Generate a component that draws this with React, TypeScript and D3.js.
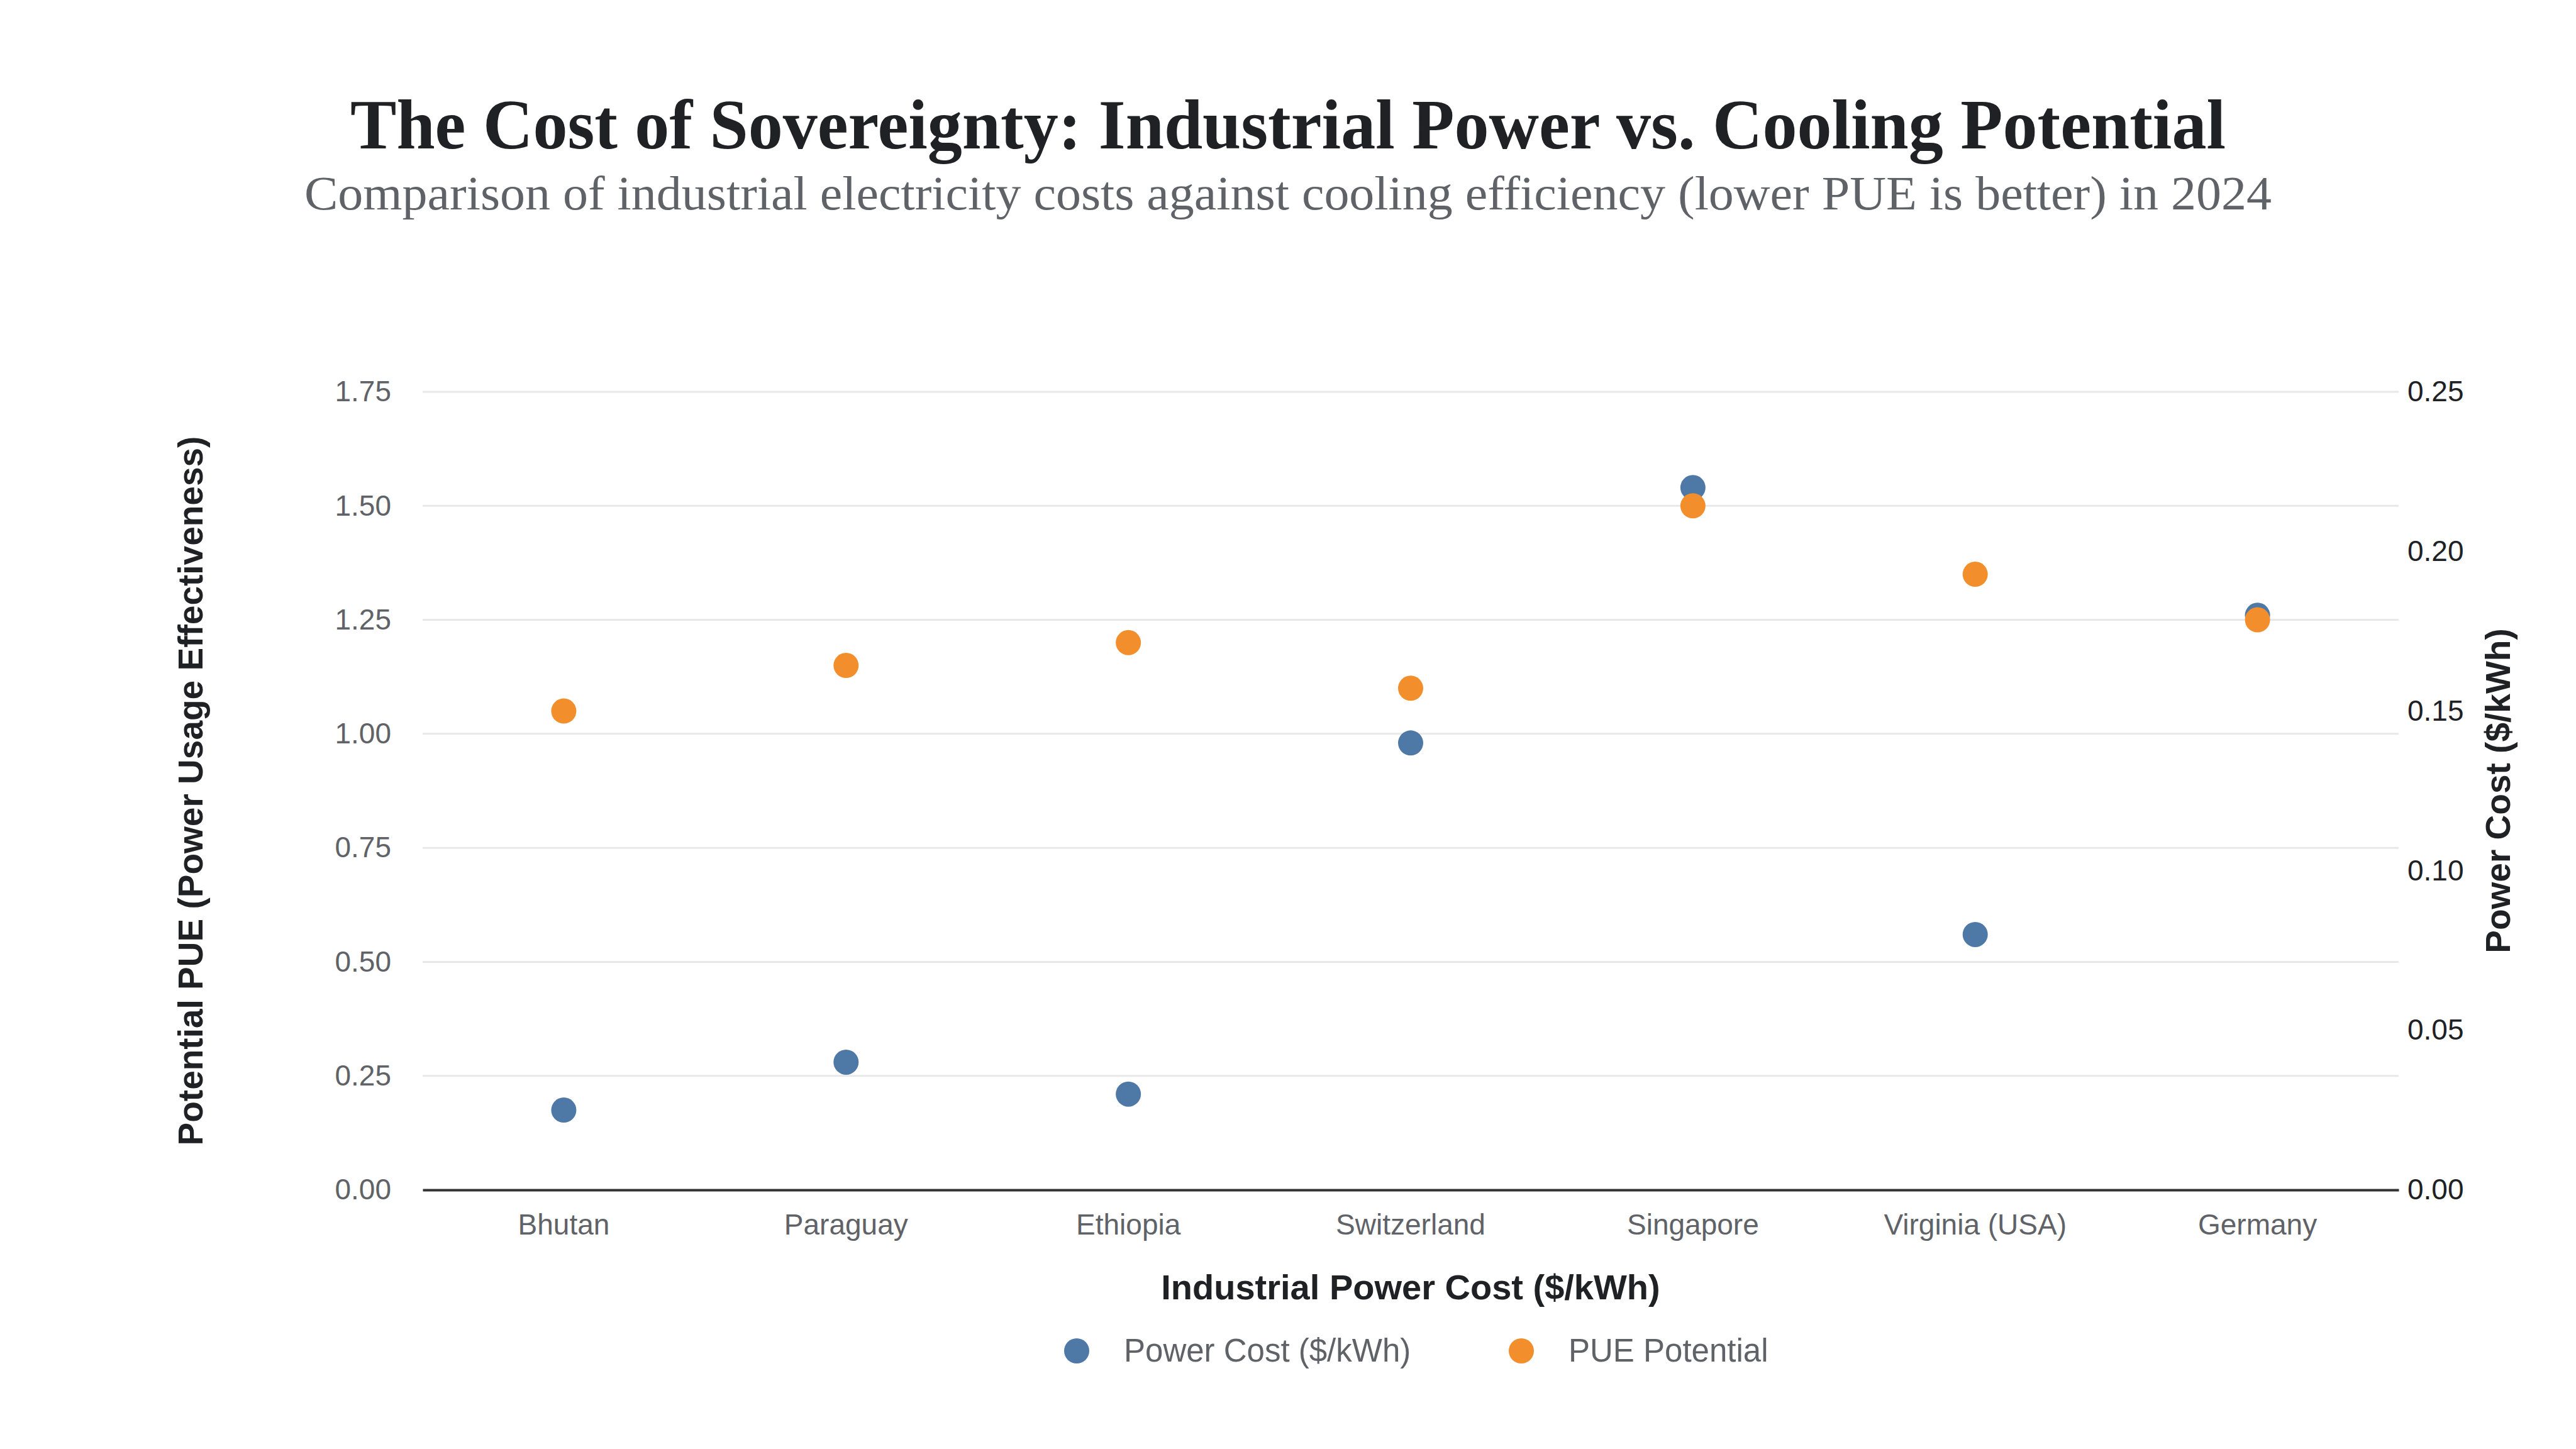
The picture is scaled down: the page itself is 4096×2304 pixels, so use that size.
import * as d3 from "d3";
import React, { useRef, useEffect } from "react";

const width = 4096;
const height = 2304;
const margin = { top: 623, right: 282, bottom: 412, left: 672 };

const countries = [
  "Bhutan",
  "Paraguay",
  "Ethiopia",
  "Switzerland",
  "Singapore",
  "Virginia (USA)",
  "Germany",
];
const powerCost = [0.025, 0.04, 0.03, 0.14, 0.22, 0.08, 0.18];
const puePotential = [1.05, 1.15, 1.2, 1.1, 1.5, 1.35, 1.25];

const leftTicks = [0, 0.25, 0.5, 0.75, 1.0, 1.25, 1.5, 1.75];
const rightTicks = [0, 0.05, 0.1, 0.15, 0.2, 0.25];

const seriesNames = ["Power Cost ($/kWh)", "PUE Potential"];
const colors = ["#4e79a7", "#f28e2b"];

const sans = "'Liberation Sans', Arial, Helvetica, sans-serif";
const serif = "'Liberation Serif', 'DejaVu Serif', serif";

export default function App() {
  const ref = useRef(null);

  useEffect(() => {
    const svg = d3.select(ref.current);
    svg.selectAll("*").remove();

    const x = d3
      .scaleBand()
      .domain(countries)
      .range([margin.left, width - margin.right]);

    const yLeft = d3
      .scaleLinear()
      .domain([0, 1.75])
      .range([height - margin.bottom, margin.top]);

    const yRight = d3
      .scaleLinear()
      .domain([0, 0.25])
      .range([height - margin.bottom, margin.top]);

    const cx = (d: string) => (x(d) as number) + x.bandwidth() / 2;

    // Title + subtitle
    svg
      .append("text")
      .attr("x", width / 2)
      .attr("y", 236)
      .attr("text-anchor", "middle")
      .attr("font-family", serif)
      .attr("font-weight", "bold")
      .attr("font-size", 112)
      .attr("fill", "#202124")
      .attr("textLength", 2982)
      .attr("lengthAdjust", "spacingAndGlyphs")
      .text("The Cost of Sovereignty: Industrial Power vs. Cooling Potential");

    svg
      .append("text")
      .attr("x", width / 2)
      .attr("y", 333)
      .attr("text-anchor", "middle")
      .attr("font-family", serif)
      .attr("font-size", 77)
      .attr("fill", "#5f6368")
      .attr("textLength", 3128)
      .attr("lengthAdjust", "spacingAndGlyphs")
      .text(
        "Comparison of industrial electricity costs against cooling efficiency (lower PUE is better) in 2024"
      );

    // Gridlines
    svg
      .append("g")
      .selectAll("line")
      .data(leftTicks.filter((t) => t > 0))
      .join("line")
      .attr("x1", margin.left)
      .attr("x2", width - margin.right)
      .attr("y1", (d) => yLeft(d))
      .attr("y2", (d) => yLeft(d))
      .attr("stroke", "#e8e8ea")
      .attr("stroke-width", 3);

    // Left axis
    svg
      .append("g")
      .attr("transform", `translate(${margin.left},0)`)
      .call(
        d3
          .axisLeft(yLeft)
          .tickValues(leftTicks)
          .tickSize(0)
          .tickPadding(50)
          .tickFormat(d3.format(".2f"))
      )
      .call((g: any) => g.select(".domain").remove())
      .call((g: any) =>
        g
          .selectAll("text")
          .attr("font-family", sans)
          .attr("font-size", 46)
          .attr("fill", "#5f6368")
      );

    // Right axis
    svg
      .append("g")
      .attr("transform", `translate(${width - margin.right},0)`)
      .call(
        d3
          .axisRight(yRight)
          .tickValues(rightTicks)
          .tickSize(0)
          .tickPadding(14)
          .tickFormat(d3.format(".2f"))
      )
      .call((g: any) => g.select(".domain").remove())
      .call((g: any) =>
        g
          .selectAll("text")
          .attr("font-family", sans)
          .attr("font-size", 46)
          .attr("fill", "#202124")
      );

    // Bottom axis
    svg
      .append("g")
      .attr("transform", `translate(0,${height - margin.bottom})`)
      .call(d3.axisBottom(x).tickSize(0).tickPadding(38))
      .call((g: any) =>
        g.select(".domain").attr("stroke", "#333333").attr("stroke-width", 4)
      )
      .call((g: any) =>
        g
          .selectAll("text")
          .attr("font-family", sans)
          .attr("font-size", 46)
          .attr("fill", "#5f6368")
      );

    // Axis titles
    svg
      .append("text")
      .attr("x", (margin.left + width - margin.right) / 2)
      .attr("y", 2066)
      .attr("text-anchor", "middle")
      .attr("font-family", sans)
      .attr("font-weight", "bold")
      .attr("font-size", 56)
      .attr("fill", "#202124")
      .text("Industrial Power Cost ($/kWh)");

    const midY = (margin.top + height - margin.bottom) / 2;
    svg
      .append("text")
      .attr("transform", `translate(322,${midY}) rotate(-90)`)
      .attr("text-anchor", "middle")
      .attr("font-family", sans)
      .attr("font-weight", "bold")
      .attr("font-size", 55)
      .attr("fill", "#202124")
      .text("Potential PUE (Power Usage Effectiveness)");

    svg
      .append("text")
      .attr("transform", `translate(3991,${midY}) rotate(-90)`)
      .attr("text-anchor", "middle")
      .attr("font-family", sans)
      .attr("font-weight", "bold")
      .attr("font-size", 55)
      .attr("fill", "#202124")
      .text("Power Cost ($/kWh)");

    // Points: power cost on right axis, PUE on left axis
    svg
      .append("g")
      .attr("fill", colors[0])
      .selectAll("circle")
      .data(countries)
      .join("circle")
      .attr("cx", (d) => cx(d))
      .attr("cy", (d, i) => yRight(powerCost[i]))
      .attr("r", 20);

    svg
      .append("g")
      .attr("fill", colors[1])
      .selectAll("circle")
      .data(countries)
      .join("circle")
      .attr("cx", (d) => cx(d))
      .attr("cy", (d, i) => yLeft(puePotential[i]))
      .attr("r", 20);

    // Legend
    const legendX = [1712, 2419];
    const legend = svg
      .append("g")
      .selectAll("g")
      .data(seriesNames)
      .join("g")
      .attr("transform", (d, i) => `translate(${legendX[i]},2148)`);
    legend
      .append("circle")
      .attr("r", 20)
      .attr("fill", (d, i) => colors[i]);
    legend
      .append("text")
      .attr("x", 75)
      .attr("y", 17)
      .attr("font-family", sans)
      .attr("font-size", 51)
      .attr("fill", "#5f6368")
      .text((d) => d);
  }, []);

  return (
    <svg
      ref={ref}
      width={width}
      height={height}
      viewBox={`0 0 ${width} ${height}`}
      style={{ position: "absolute", left: 0, top: 0, background: "#ffffff" }}
    ></svg>
  );
}
